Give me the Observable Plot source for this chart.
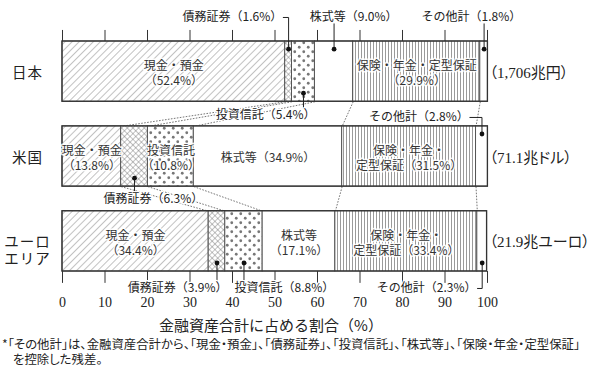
<!DOCTYPE html>
<html><head><meta charset="utf-8">
<script src="https://cdn.jsdelivr.net/npm/d3@7"></script>
<script src="https://cdn.jsdelivr.net/npm/@observablehq/plot@0.6"></script>
<style>
body{margin:0;background:#fff;}
#chart{width:600px;height:337px;}
.note{font-family:"Noto Sans CJK JP",sans-serif;font-size:12.4px;line-height:15px;color:#222;font-feature-settings:"palt";white-space:nowrap;padding-left:2px;}
.note .l2{padding-left:11px;}
</style>
</head><body>
<svg width="0" height="0" style="position:absolute">
<defs>
<pattern id="p-diag" width="5" height="5" patternUnits="userSpaceOnUse" patternTransform="rotate(45)">
<rect width="5" height="5" fill="white"/><line x1="0" y1="0" x2="0" y2="5" stroke="#777" stroke-width="0.9"/>
</pattern>
<pattern id="p-cross" width="4" height="4" patternUnits="userSpaceOnUse" patternTransform="rotate(45)">
<rect width="4" height="4" fill="white"/><line x1="0" y1="0" x2="0" y2="4" stroke="#666" stroke-width="0.8"/><line x1="0" y1="0" x2="4" y2="0" stroke="#666" stroke-width="0.8"/>
</pattern>
<pattern id="p-dots" width="9" height="9" patternUnits="userSpaceOnUse">
<rect width="9" height="9" fill="white"/><circle cx="2.25" cy="2.25" r="1.4" fill="#777"/><circle cx="6.75" cy="6.75" r="1.4" fill="#777"/>
</pattern>
<pattern id="p-vert" width="3" height="3" patternUnits="userSpaceOnUse">
<rect width="3" height="3" fill="white"/><line x1="1.5" y1="0" x2="1.5" y2="3" stroke="#888" stroke-width="0.85"/>
</pattern>
</defs>
</svg>
<div id="chart"></div>
<div class="note"><div>*「その他計」は、金融資産合計から、「現金・預金」、「債務証券」、「投資信託」、「株式等」、「保険・年金・定型保証」</div><div class="l2">を控除した残差。</div></div>
<script>
// ---- data ----
const regions = ["日本", "米国", "ユーロエリア"];
const regionLabels = ["日本", "米国", "ユーロ\nエリア"];
const categories = ["現金・預金", "債務証券", "投資信託", "株式等", "保険・年金・定型保証", "その他計"];
const japan = [52.4, 1.6, 5.4, 9.0, 29.9, 1.8];
const us = [13.8, 6.3, 10.8, 34.9, 31.5, 2.8];
const euro = [34.4, 3.9, 8.8, 17.1, 33.4, 2.3];
const totals = ["（1,706兆円）", "（71.1兆ドル）", "（21.9兆ユーロ）"];
const xTicks = [0, 10, 20, 30, 40, 50, 60, 70, 80, 90, 100];
const axisTitle = "金融資産合計に占める割合（%）";

// ---- styles / layout ----
const fills = ["url(#p-diag)", "url(#p-cross)", "url(#p-dots)", "white", "url(#p-vert)", "white"];
const BH = 0.71; // bar thickness in row units
const series = [japan, us, euro];

const segs = [];
series.forEach((vals, r) => {
  let c = 0;
  vals.forEach((v, k) => { segs.push({r, k, v, x1: c, x2: c + v, mid: c + v / 2}); c += v; });
});
const seg = (r, k) => segs.find(s => s.r === r && s.k === k);
const boxes = series.map((vals, r) => ({r, x2: d3.sum(vals)}));

const links = [];
for (let r = 0; r < 2; r++) for (let k = 0; k < 5; k++) {
  links.push({x1: seg(r, k).x2, y1: r + BH, x2: seg(r + 1, k).x2, y2: r + 1});
}

// inside labels
const inside = [
  {r: 0, k: 0, t: s => `現金・預金\n（${s.v.toFixed(1)}%）`},
  {r: 0, k: 4, t: s => `保険・年金・定型保証\n（${s.v.toFixed(1)}%）`},
  {r: 1, k: 0, t: s => `現金・預金\n（${s.v.toFixed(1)}%）`},
  {r: 1, k: 2, t: s => `投資信託\n（${s.v.toFixed(1)}%）`},
  {r: 1, k: 3, t: s => `株式等（${s.v.toFixed(1)}%）`},
  {r: 1, k: 4, t: s => `保険・年金・\n定型保証（${s.v.toFixed(1)}%）`},
  {r: 2, k: 0, t: s => `現金・預金\n（${s.v.toFixed(1)}%）`},
  {r: 2, k: 3, t: s => `株式等\n（${s.v.toFixed(1)}%）`},
  {r: 2, k: 4, t: s => `保険・年金・\n定型保証（${s.v.toFixed(1)}%）`}
].map(d => { const s = seg(d.r, d.k); return {x: s.mid, y: d.r + 0.37, text: d.t(s)}; });

// callouts: label position (x in %, y in row units), side, anchor
const callouts = [
  {r: 0, k: 1, lx: 51.7, ly: -0.283, side: "top", anchor: "end", elbow: true},
  {r: 0, k: 3, lx: 68.5, ly: -0.283, side: "top", anchor: "middle"},
  {r: 0, k: 5, lx: 96.2, ly: -0.283, side: "top", anchor: "middle"},
  {r: 0, k: 2, lx: 47.8, ly: 0.872, side: "below", anchor: "middle"},
  {r: 1, k: 5, lx: 95.6, ly: 0.895, side: "top", anchor: "end", elbow: true},
  {r: 1, k: 1, lx: 21.4, ly: 1.862, side: "below", anchor: "middle"},
  {r: 2, k: 1, lx: 27.1, ly: 2.91, side: "below", anchor: "middle"},
  {r: 2, k: 2, lx: 52.2, ly: 2.91, side: "below", anchor: "middle"},
  {r: 2, k: 5, lx: 97.4, ly: 2.91, side: "below", anchor: "end", elbow: true}
];
const calloutText = [], leaderPts = [], dots = [];
callouts.forEach((c, i) => {
  const s = seg(c.r, c.k);
  calloutText.push({x: c.lx, y: c.ly, text: `${categories[c.k]}（${s.v.toFixed(1)}%）`, anchor: c.anchor});
  const dy = c.side === "top" ? c.r + 0.09 : c.r + BH - 0.1;
  dots.push({x: s.mid, y: dy});
  if (c.elbow) {
    leaderPts.push({i, x: c.lx + 0.25, y: c.ly}, {i, x: s.mid, y: c.ly}, {i, x: s.mid, y: dy});
  } else {
    const y0 = c.side === "top" ? c.ly + 0.075 : c.ly - 0.085;
    leaderPts.push({i, x: s.mid, y: y0}, {i, x: s.mid, y: dy});
  }
});

const serif = "'Liberation Serif', 'Noto Sans CJK JP', serif";
const chart = Plot.plot({
  width: 600, height: 337,
  marginLeft: 62, marginRight: 113, marginTop: 41, marginBottom: 66,
  style: {fontFamily: "'Noto Sans CJK JP', sans-serif", background: "white", color: "#222"},
  x: {domain: [0, 100], axis: null},
  y: {domain: [0, 2 + BH], range: [41, 271], axis: null},
  marks: [
    Plot.link(links, {x1: "x1", y1: "y1", x2: "x2", y2: "y2", stroke: "#666", strokeWidth: 0.9, strokeDasharray: "1.6,1.4"}),
    Plot.rect(segs, {x1: "x1", x2: "x2", y1: d => d.r, y2: d => d.r + BH, fill: d => fills[d.k], stroke: "#555", strokeWidth: 1}),
    Plot.rect(boxes, {x1: 0, x2: "x2", y1: d => d.r, y2: d => d.r + BH, fill: "none", stroke: "#333", strokeWidth: 1.3}),
    Plot.ruleX(xTicks, {x: d => d, y1: -0.13, y2: 0, stroke: "#333", strokeWidth: 1}),
    Plot.ruleX(xTicks, {x: d => d, y1: 2 + BH, y2: 2.85, stroke: "#333", strokeWidth: 1}),
    Plot.text(xTicks, {x: d => d, y: 3.075, text: d => String(d), fontFamily: serif, fontSize: 14, fill: "#222"}),
    Plot.text([axisTitle], {x: 50, y: 3.35, text: d => d, dx: -4, fontSize: 15, fill: "#222"}),
    Plot.text(inside, {x: "x", y: "y", text: "text", fontSize: 12, lineHeight: 1.22, fill: "#333", stroke: "white", strokeWidth: 3, strokeOpacity: 0.9}),
    Plot.line(leaderPts, {x: "x", y: "y", z: "i", stroke: "#222", strokeWidth: 1}),
    Plot.dot(dots, {x: "x", y: "y", r: 2.4, fill: "#111"}),
    Plot.text(calloutText.filter(d => d.anchor === "end"), {x: "x", y: "y", text: "text", textAnchor: "end", fontSize: 12, fill: "#222", stroke: "white", strokeWidth: 2.5}),
    Plot.text(calloutText.filter(d => d.anchor === "middle"), {x: "x", y: "y", text: "text", textAnchor: "middle", fontSize: 12, fill: "#222", stroke: "white", strokeWidth: 2.5}),
    Plot.text(regionLabels, {x: 0, y: (d, i) => i === 2 ? 2.457 : i + 0.37, text: d => d, dx: -35, fontSize: 14.5, lineHeight: 1.15, fill: "#222"}),
    Plot.text(totals, {x: 100, y: (d, i) => i + 0.37, text: d => d, dx: 2, textAnchor: "start", fontFamily: serif, fontSize: 15, fill: "#222"})
  ]
});
document.getElementById("chart").appendChild(chart);
// compress full-width punctuation in the totals (proportional alternates)
const textGroups = chart.querySelectorAll('g[aria-label="text"]');
const totalsGroup = textGroups[textGroups.length - 1];
totalsGroup.style.fontFeatureSettings = '"palt"';
const regionGroup = textGroups[textGroups.length - 2];
regionGroup.style.letterSpacing = "1px";
</script>
</body></html>
